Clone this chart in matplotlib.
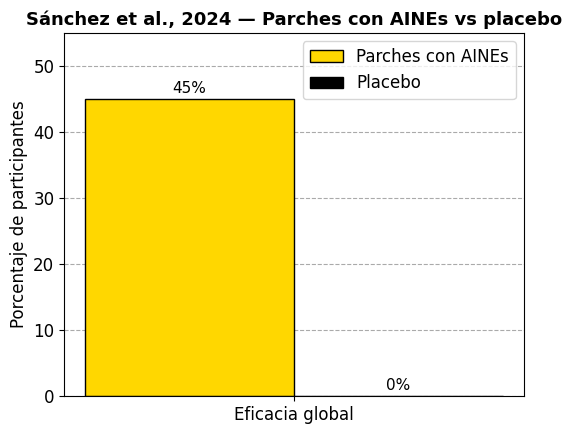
import matplotlib
matplotlib.use("Agg")
import matplotlib.pyplot as plt
import numpy as np

categories = ["Eficacia global"]
aines = [45]
placebo = [0]
series_names = ["Parches con AINEs", "Placebo"]

fig, ax = plt.subplots(figsize=(5.72, 4.34), dpi=100)
x = np.arange(len(categories))
w = 0.35
b1 = ax.bar(x - w/2, aines, w, color="#FFD700", edgecolor="black", label=series_names[0])
b2 = ax.bar(x + w/2, placebo, w, color="black", edgecolor="black", label=series_names[1])
for bars, vals in ((b1, aines), (b2, placebo)):
    for r, v in zip(bars, vals):
        ax.text(r.get_x() + r.get_width()/2, v + 0.5, f"{v}%", ha="center", va="bottom", fontsize=11)
ax.set_xticks(x)
ax.set_xticklabels(categories, fontsize=12)
ax.tick_params(axis="y", labelsize=12)
ax.set_ylim(0, 55)
ax.set_ylabel("Porcentaje de participantes", fontsize=12)
ax.set_title("Sánchez et al., 2024 — Parches con AINEs vs placebo", fontsize=13, fontweight="bold")
ax.yaxis.grid(True, linestyle="--", color="#aaaaaa")
ax.set_axisbelow(True)
ax.legend(loc="upper right", fontsize=12)
fig.subplots_adjust(left=0.112, right=0.916, top=0.924, bottom=0.088)
fig.savefig("out.png")
